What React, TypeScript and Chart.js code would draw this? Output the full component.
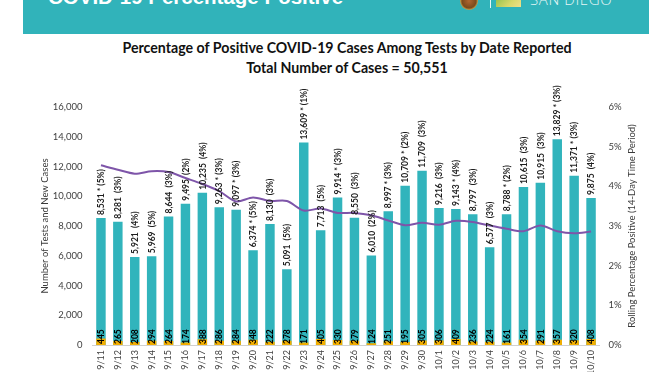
import React, { useEffect, useRef } from "react";
import { Chart, registerables } from "chart.js";

Chart.register(...registerables);

const dates = ["9/11","9/12","9/13","9/14","9/15","9/16","9/17","9/18","9/19","9/20","9/21","9/22","9/23","9/24","9/25","9/26","9/27","9/28","9/29","9/30","10/1","10/2","10/3","10/4","10/5","10/6","10/7","10/8","10/9","10/10"];
const tests = [8531,8281,5921,5969,8644,9495,10235,9263,9097,6374,8130,5091,13609,7713,9914,8550,6010,8997,10709,11709,9216,9143,8797,6577,8788,10615,10915,13829,11371,9875];
const newCases = [445,265,208,294,264,174,388,286,284,348,222,278,171,405,330,279,124,251,195,305,306,409,236,224,161,354,291,357,320,408];
const dailyPct = [5,3,4,5,3,2,4,3,3,5,3,5,1,5,3,3,2,3,2,3,3,4,3,3,2,3,3,3,3,4];
const starred = [1,0,0,0,0,0,0,1,1,1,0,0,1,0,1,0,0,1,1,0,0,1,0,0,1,0,0,1,1,0];
const rolling = [4.53,4.42,4.32,4.38,4.36,4.21,4.06,3.88,3.62,3.72,3.63,3.63,3.39,3.44,3.33,3.33,3.27,3.14,3.02,3.08,3.03,3.13,3.10,3.01,2.93,2.87,3.01,2.87,2.82,2.86];
const leftTicksMax = 16000;
const rightTicksMax = 6;

const titleLine1 = "Percentage of Positive COVID-19 Cases Among Tests by Date Reported";
const titleLine2 = "Total Number of Cases = 50,551";
const leftTitle = "Number of Tests and New Cases";
const rightTitle = "Rolling Percentage Positive (14-Day Time Period)";

const TEAL = "#31B4BC";
const ORANGE = "#F2AE00";
const PURPLE = "#7E55A9";
const FONT = "Lato, 'Open Sans', sans-serif";

const fmt = (n: number) => n.toLocaleString("en-US");

const labelPlugin = {
  id: "barLabels",
  afterDatasetsDraw(chart: any) {
    const ctx = chart.ctx;
    const tealMeta = chart.getDatasetMeta(2);
    const orangeMeta = chart.getDatasetMeta(1);
    ctx.save();
    ctx.fillStyle = "#1e1e1e";
    ctx.textAlign = "left";
    ctx.textBaseline = "middle";
    ctx.font = `bold 8.5px ${FONT}`;
    tealMeta.data.forEach((bar: any, i: number) => {
      const label = fmt(tests[i]) + (starred[i] ? " * " : "  ") + "(" + dailyPct[i] + "%)";
      ctx.save();
      ctx.translate(bar.x + 0.5, bar.y - 3);
      ctx.rotate(-Math.PI / 2);
      ctx.fillText(label, 0, 0);
      ctx.restore();
    });
    ctx.font = `bold 8.5px ${FONT}`;
    ctx.fillStyle = "#000000";
    orangeMeta.data.forEach((bar: any, i: number) => {
      ctx.save();
      ctx.translate(bar.x + 0.5, chart.chartArea.bottom - 1);
      ctx.rotate(-Math.PI / 2);
      ctx.fillText(String(newCases[i]), 0, 0);
      ctx.restore();
    });
    ctx.restore();
  },
  afterDraw(chart: any) {
    const ctx = chart.ctx;
    const { top, bottom } = chart.chartArea;
    const cy = (top + bottom) / 2;
    ctx.save();
    ctx.fillStyle = "#3a3a3a";
    ctx.font = `9.5px ${FONT}`;
    ctx.textAlign = "center";
    ctx.textBaseline = "middle";
    ctx.translate(45, cy);
    ctx.rotate(-Math.PI / 2);
    ctx.fillText(leftTitle, 0, 0);
    ctx.restore();
    ctx.save();
    ctx.fillStyle = "#3a3a3a";
    ctx.font = `9.5px ${FONT}`;
    ctx.textAlign = "center";
    ctx.textBaseline = "middle";
    ctx.translate(632, cy);
    ctx.rotate(-Math.PI / 2);
    ctx.fillText(rightTitle, 0, 0);
    ctx.restore();
  },
};

export default function App() {
  const ref = useRef<HTMLCanvasElement | null>(null);

  useEffect(() => {
    document.body.style.margin = "0";
    if (!ref.current) return;
    const chart = new Chart(ref.current, {
      type: "bar",
      data: {
        labels: dates,
        datasets: [
          {
            type: "line",
            label: "Rolling Percentage Positive",
            data: rolling,
            yAxisID: "y1",
            borderColor: PURPLE,
            borderWidth: 2,
            pointRadius: 0,
            tension: 0.3,
            fill: false,
            order: 0,
          } as any,
          {
            type: "bar",
            label: "New Cases",
            data: newCases,
            yAxisID: "y",
            backgroundColor: ORANGE,
            grouped: false,
            barPercentage: 0.56,
            categoryPercentage: 1,
            order: 1,
          },
          {
            type: "bar",
            label: "Tests",
            data: tests,
            yAxisID: "y",
            backgroundColor: TEAL,
            grouped: false,
            barPercentage: 0.56,
            categoryPercentage: 1,
            order: 2,
          },
        ],
      },
      options: {
        responsive: false,
        animation: false,
        layout: { padding: { top: 107, left: 0, right: 0, bottom: 0 } },
        plugins: {
          legend: { display: false },
          title: { display: false },
          tooltip: { enabled: false },
        },
        scales: {
          x: {
            grid: { display: false, drawTicks: false },
            border: { display: true, color: "#d0d0d0", width: 1 },
            ticks: {
              autoSkip: false,
              minRotation: 90,
              maxRotation: 90,
              padding: 5,
              color: "#404040",
              font: { family: FONT, size: 9 },
            },
            afterFit(s: any) { s.height = 27; },
          },
          y: {
            position: "left",
            min: 0,
            max: leftTicksMax,
            grid: { display: false, drawTicks: false },
            border: { display: false },
            ticks: {
              stepSize: 2000,
              padding: 10,
              color: "#404040",
              font: { family: FONT, size: 9.5 },
              callback: (v: any) => fmt(Number(v)),
            },
            afterFit(s: any) { s.width = 92.5; },
          },
          y1: {
            position: "right",
            min: 0,
            max: rightTicksMax,
            grid: { display: false, drawTicks: false },
            border: { display: false },
            ticks: {
              stepSize: 1,
              padding: 9,
              color: "#404040",
              font: { family: FONT, size: 9.5 },
              callback: (v: any) => v + "%",
            },
            afterFit(s: any) { s.width = 72.5; },
          },
        },
      },
      plugins: [labelPlugin],
    } as any);
    return () => chart.destroy();
  }, []);

  return (
    <div style={{ position: "fixed", left: 0, top: 0, width: 672, height: 372, overflow: "hidden", background: "#fff" }}>
      <div style={{ position: "absolute", left: 23, top: 0, width: 626, height: 34, background: "#31B3BA" }} />
      <div style={{ position: "absolute", left: 48, top: -14, fontFamily: "'Liberation Sans', Arial, sans-serif", fontWeight: 700, fontSize: 20.5, lineHeight: "22px", color: "#fff", whiteSpace: "nowrap" }}>
        COVID-19 Percentage Positive
      </div>
      <div style={{ position: "absolute", left: 460, top: -8, width: 18, height: 18, borderRadius: "50%", background: "radial-gradient(circle, #b0652f 0%, #7a4a1c 55%, #c9a24a 70%, #5a3a14 100%)" }} />
      <div style={{ position: "absolute", left: 490, top: 0, width: 1, height: 8, background: "#e8f6f6" }} />
      <div style={{ position: "absolute", left: 496, top: -4, width: 25, height: 11, background: "linear-gradient(135deg, #8bbf4a 0%, #d8d86a 60%, #f0e08a 100%)" }} />
      <div style={{ position: "absolute", left: 530, top: -10, fontFamily: "'Open Sans', sans-serif", fontWeight: 300, fontSize: 15, lineHeight: "18px", letterSpacing: 0.6, color: "#e6f6f6", whiteSpace: "nowrap" }}>
        SAN DIEGO
      </div>
      <div style={{ position: "absolute", left: 0, width: 672, top: 38, textAlign: "center", fontFamily: FONT, fontWeight: 700, fontSize: 14.2, lineHeight: "20px", color: "#111" }}>
        <div style={{ paddingLeft: 22 }}>{titleLine1}</div>
        <div style={{ paddingLeft: 22 }}>{titleLine2}</div>
      </div>
      <canvas ref={ref} width={672} height={372} style={{ position: "absolute", left: 0, top: 0 }} />
    </div>
  );
}
